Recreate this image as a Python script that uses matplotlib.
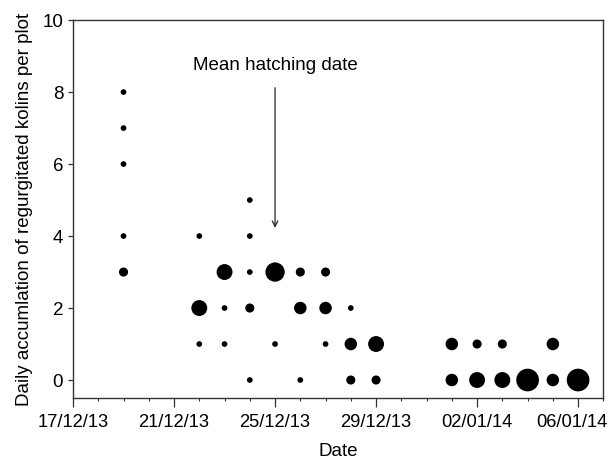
import matplotlib
matplotlib.use('Agg')
import matplotlib.pyplot as plt
import matplotlib.dates as mdates
import matplotlib.transforms as mtransforms
import pandas as pd

plt.rcParams['font.family'] = ['Liberation Sans', 'DejaVu Sans']

# observation dates, kolin counts per plot, and number of plots (marker size)
dates = ['2013-12-19'] * 5 + \
        ['2013-12-22'] * 3 + \
        ['2013-12-23'] * 3 + \
        ['2013-12-24'] * 5 + \
        ['2013-12-25'] * 2 + \
        ['2013-12-26'] * 3 + \
        ['2013-12-27'] * 3 + \
        ['2013-12-28'] * 3 + \
        ['2013-12-29'] * 2 + \
        ['2014-01-01'] * 2 + \
        ['2014-01-02'] * 2 + \
        ['2014-01-03'] * 2 + \
        ['2014-01-04'] * 1 + \
        ['2014-01-05'] * 2 + \
        ['2014-01-06'] * 1
kolins = [8, 7, 6, 4, 3,
          4, 2, 1,
          3, 2, 1,
          5, 4, 3, 2, 0,
          3, 1,
          3, 2, 0,
          3, 2, 1,
          2, 1, 0,
          1, 0,
          1, 0,
          1, 0,
          1, 0,
          0,
          1, 0,
          0]
plots = [1, 1, 1, 1, 2,
         1, 4, 1,
         4, 1, 1,
         1, 1, 1, 2, 1,
         5, 1,
         2, 3, 1,
         2, 3, 1,
         1, 3, 2,
         4, 2,
         3, 3,
         2, 4,
         2, 4,
         6,
         3, 3,
         6]

df = pd.DataFrame({'Date': pd.to_datetime(dates), 'Kolins': kolins, 'Plots': plots})

fig = plt.figure(figsize=(6.11, 4.62), dpi=100)
ax = fig.add_axes([0.1195, 0.1385, 0.868, 0.818])

# marker diameter in pixels grows with number of plots
diam = 3.4 * df['Plots'] + 2.3
ax.scatter(df['Date'], df['Kolins'], s=(diam * 0.72) ** 2, color='black',
           edgecolors='none', zorder=3)

# Mean hatching date arrow
ax.annotate('', xy=(pd.Timestamp('2013-12-25'), 4.15),
            xytext=(pd.Timestamp('2013-12-25'), 8.2),
            arrowprops=dict(arrowstyle='->', color='#222222', lw=0.9))
ax.text(pd.Timestamp('2013-12-25'), 8.5, 'Mean hatching date', ha='center',
        va='bottom', fontsize=13.5)

ax.set_xlim(pd.Timestamp('2013-12-17'), pd.Timestamp('2014-01-07'))
ax.set_ylim(-0.5, 10)
ax.set_yticks([0, 2, 4, 6, 8, 10])

major_dates = pd.date_range('2013-12-17', '2014-01-06', freq='4D')
ax.set_xticks(major_dates)
ax.xaxis.set_major_formatter(mdates.DateFormatter('%d/%m/%y'))
ax.xaxis.set_minor_locator(mdates.DayLocator())

ax.tick_params(axis='x', which='major', length=6.5, width=0.9, labelsize=13.2,
               color='#333333', pad=5)
ax.tick_params(axis='y', which='major', length=3.6, width=0.9, labelsize=13.5,
               color='#333333', pad=3.5)
ax.tick_params(axis='x', which='minor', length=2.4, width=0.8, color='#333333')

# nudge last date label left so it stays inside the figure
last_lbl = ax.get_xticklabels()[-1]
last_lbl.set_transform(last_lbl.get_transform() +
                       mtransforms.ScaledTranslation(-6 / 100, 0, fig.dpi_scale_trans))

for sp in ax.spines.values():
    sp.set_color('#333333')
    sp.set_linewidth(1.0)

ax.set_xlabel('Date', fontsize=13.5, labelpad=9)
ax.set_ylabel('Daily accumlation of regurgitated kolins per plot', fontsize=13.5,
              labelpad=7)

fig.savefig('out.png', dpi=100)
